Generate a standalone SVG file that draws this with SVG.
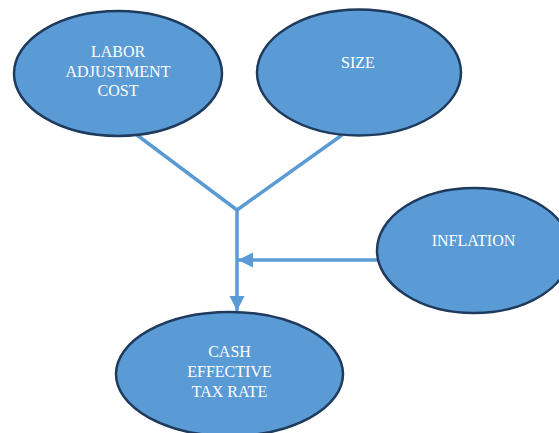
<svg xmlns="http://www.w3.org/2000/svg" width="559" height="433" viewBox="0 0 559 433">
<defs>
<style>
.node ellipse{fill:#5B9BD5;stroke:#1E3A5C;stroke-width:2.5}
.node text{fill:#FFFFFF;font-family:"Liberation Serif",serif;font-size:16px;text-anchor:middle}
.conn{stroke:#5B9BD5;stroke-width:3.5;fill:none}
</style>
<marker id="arr" viewBox="0 0 10 10" refX="10" refY="5" markerWidth="4.3" markerHeight="4.3" markerUnits="strokeWidth" orient="auto">
<path d="M0,0 L10,5 L0,10 z" fill="#5B9BD5"/>
</marker>
</defs>
<rect width="559" height="433" fill="#FFFFFF"/>
<g id="connectors">
<polyline class="conn" points="137,135 237,210 342,135"/>
<line class="conn" x1="237" y1="210" x2="237" y2="311" marker-end="url(#arr)"/>
<line class="conn" x1="378" y1="260" x2="238" y2="260" marker-end="url(#arr)"/>
</g>
<g id="labor" class="node">
<ellipse cx="118" cy="73.5" rx="104" ry="62.5"/>
<text x="118" y="57">LABOR</text>
<text x="118" y="77">ADJUSTMENT</text>
<text x="118" y="96">COST</text>
</g>
<g id="size" class="node">
<ellipse cx="359" cy="72.5" rx="102" ry="63"/>
<text x="358" y="68">SIZE</text>
</g>
<g id="inflation" class="node">
<ellipse cx="474" cy="250.5" rx="97" ry="62.5"/>
<text x="473.5" y="246">INFLATION</text>
</g>
<g id="cash" class="node">
<ellipse cx="229.5" cy="374" rx="113.5" ry="62"/>
<text x="229.5" y="357">CASH</text>
<text x="229.5" y="377">EFFECTIVE</text>
<text x="229.5" y="397">TAX RATE</text>
</g>
</svg>
